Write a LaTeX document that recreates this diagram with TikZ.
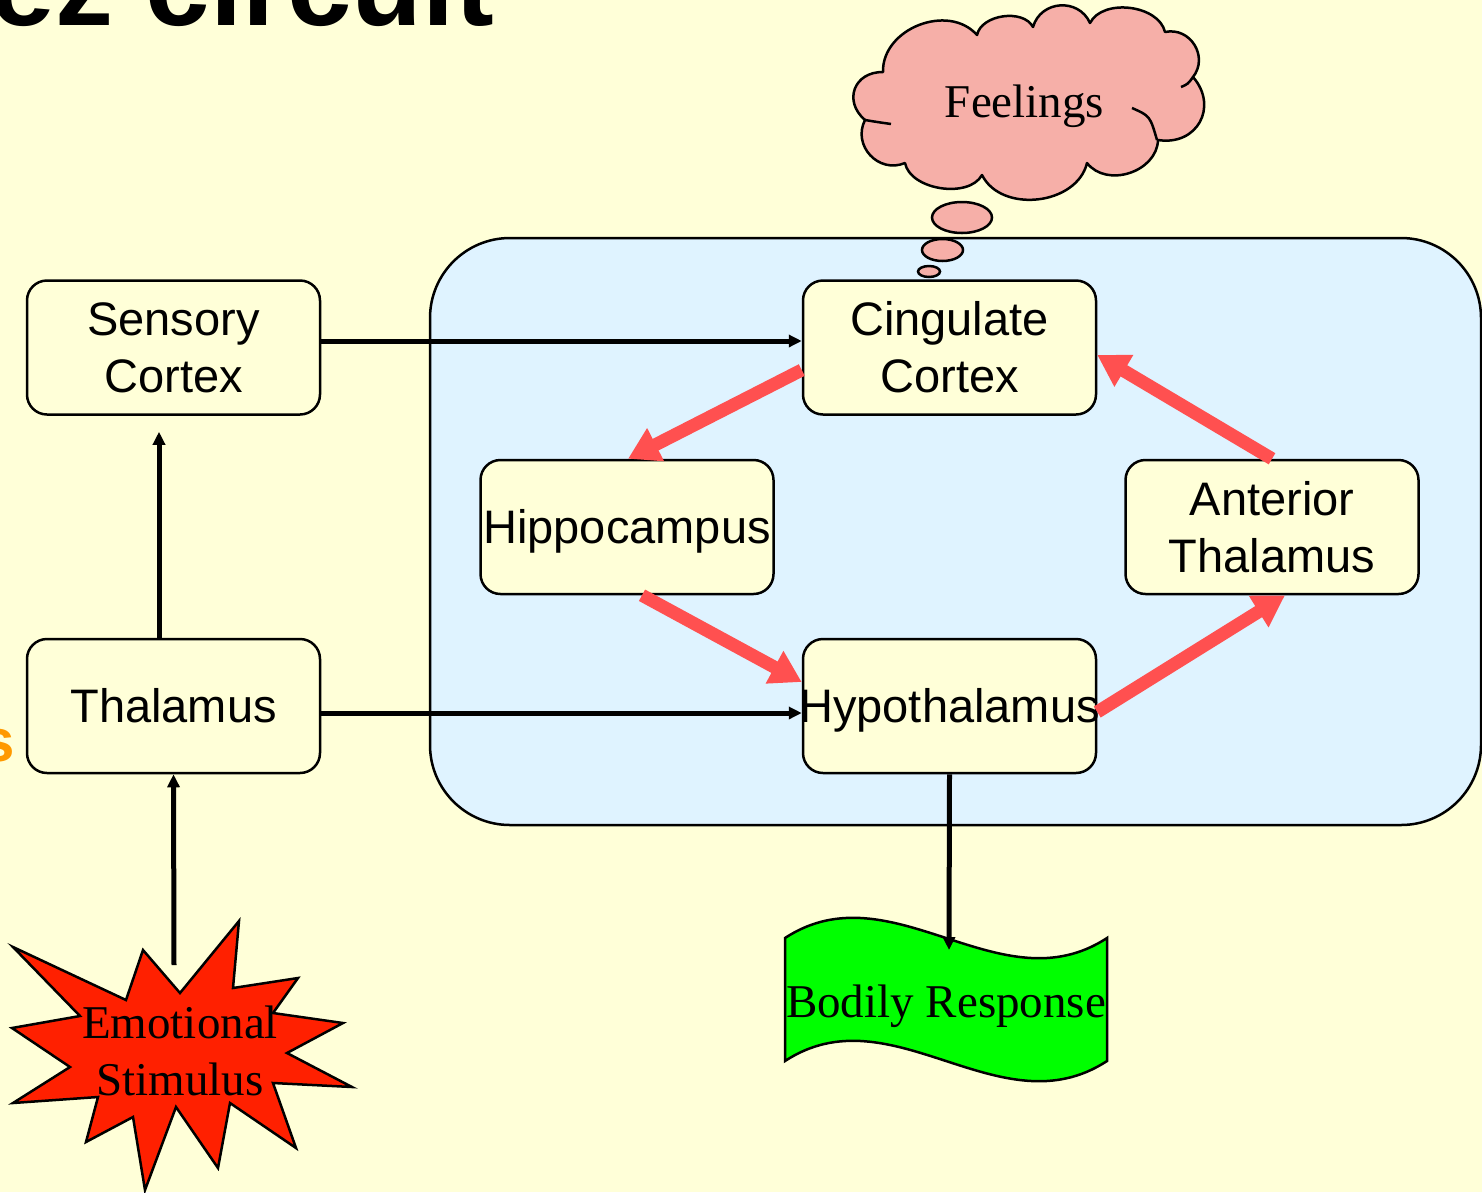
\documentclass[tikz,border=0pt]{standalone}
\usepackage{fontspec}
\setmainfont{Liberation Serif}
\setsansfont{Liberation Sans}
\usetikzlibrary{arrows.meta,calc}

\definecolor{paper}{HTML}{FFFFD8}
\definecolor{skyfill}{HTML}{DFF3FF}
\definecolor{loopred}{HTML}{FF5050}
\definecolor{cloudpink}{HTML}{F6AFA8}
\definecolor{burstred}{HTML}{FF2000}
\definecolor{wavegreen}{HTML}{00FF00}
\definecolor{titleorange}{HTML}{FF9900}

\newcommand\boxfont{\sffamily\fontsize{47}{57}\selectfont}
\newcommand\serifbig{\rmfamily\fontsize{47}{57}\selectfont}
\newcommand\titlefont{\sffamily\bfseries\fontsize{116}{130}\selectfont}
\newcommand\sidefont{\sffamily\bfseries\fontsize{60}{70}\selectfont}

\begin{document}
\begin{tikzpicture}[x=1pt,y=-1pt,
  region/.style={draw=black, line width=2.5pt, fill=skyfill, rounded corners=80pt},
  box/.style={draw=black, line width=2.5pt, fill=paper, rounded corners=20pt,
    minimum width=293pt, minimum height=134pt, inner sep=0pt, align=center, font=\boxfont},
  oneline/.style={text height=33.6pt, text depth=0pt},
  link/.style={draw=black, line width=5pt, -{Triangle[length=13pt,width=12pt]}},
  loop/.style={draw=loopred, line width=13pt, -{Triangle[length=31pt,width=35pt]}},
  bulge/.style={bend left=70, looseness=#1},
  thought/.style={draw=black, line width=2.5pt, fill=cloudpink},
]
\useasboundingbox (0,0) rectangle (1482,1192);
\clip (0,0) rectangle (1482,1192);
\fill[paper] (0,0) rectangle (1482,1192);

% heading and side label, partly outside the page
\node[anchor=base east, font=\titlefont, inner sep=0pt] (title) at (494,25) {ez circuit};
\node[anchor=base east, font=\sidefont, text=titleorange, inner sep=0pt] (side) at (15,761) {s};

% limbic region
\draw[region] (430,238) rectangle (1481,825);

% thought cloud
\draw[thought, line join=round]
  (883,72) to[bulge=1.1] (977,35) to[bulge=0.95] (1033,27) to[bulge=1.25] (1090,23)
  to[bulge=0.95] (1165,32) to[bulge=1.25] (1193,77) to[bulge=1.4] (1158,140)
  to[bulge=1.1] (1087,163) to[bulge=1.05] (982,175) to[bulge=0.9] (905,163)
  to[bulge=1.25] (865,120) to[bulge=1.45] (883,72) -- cycle;
\draw[line width=2.5pt] (865,120) .. controls (877,122) .. (891,124);
\draw[line width=2.5pt] (1132,108) .. controls (1150,116) .. (1157,140);
\draw[line width=2.5pt] (1181,87) .. controls (1188,84) .. (1193,77);
\draw[thought] (962,217.5) ellipse [x radius=30, y radius=15.5];
\draw[thought] (942.5,250) ellipse [x radius=20.5, y radius=11];
\draw[thought] (929,271.5) ellipse [x radius=11, y radius=5.5];
\node[font=\serifbig, inner sep=0pt] (feel) at (1024.5,106) {Feelings};

% emotional stimulus burst
\draw[fill=burstred, line width=2.5pt, line join=miter]
  (13,947) -- (126,1000) -- (143,950) -- (180,993) -- (239,921) -- (233,988)
  -- (298,978) -- (273,1013) -- (343,1023) -- (287,1053) -- (352,1087)
  -- (273,1083) -- (296,1148) -- (230,1103) -- (218,1168) -- (176,1107)
  -- (145,1190) -- (133,1117) -- (86,1142) -- (98,1097) -- (13,1103)
  -- (70,1067) -- (12,1028) -- (80,1016) -- cycle;
\node[font=\serifbig, align=center, inner sep=0pt] (stim) at (180,1050.5) {Emotional\\Stimulus};
\coordinate (stimtop) at (174,965);

% bodily response banner
\draw[fill=wavegreen, line width=2.5pt]
  (785,938) .. controls (892,868) and (1000,1008) .. (1107,938) -- (1107,1061)
  .. controls (1000,1131) and (892,991) .. (785,1061) -- cycle;
\node[font=\serifbig, inner sep=0pt] (resp) at (946,1006) {Bodily Response};
\coordinate (resptop) at (949,950);

% structures
\node[box] (sens)  at (173.5,347.5) {Sensory\\Cortex};
\node[box, oneline] (thal)  at (173.5,706)   {Thalamus};
\node[box] (cing)  at (949.5,347.5) {Cingulate\\Cortex};
\node[box, oneline] (hippo) at (627,527)     {Hippocampus};
\node[box] (ant)   at (1272,527)    {Anterior\\Thalamus};
\node[box, oneline] (hypo)  at (949.5,706)   {\makebox[280pt]{Hypothalamus}};

% direct pathways
\draw[link] ($(sens.east)+(0,-6.5)$) -- ($(cing.west)+(0,-6.5)$);
\draw[link] ($(thal.east)+(0,7)$) -- ($(hypo.west)+(0,7)$);
\draw[link] ($(thal.north)+(-14.5,0)$) -- ($(sens.south)+(-14.5,16)$);
\draw[link] (stimtop) -- (thal.south);
\draw[link] (hypo.south) -- (resptop);

% the circuit loop
\draw[loop] ($(cing.west)+(0,22.5)$) -- ($(hippo.north)+(1,0)$);
\draw[loop] ($(hippo.south)+(15,0)$) -- ($(hypo.west)+(0,-24)$);
\draw[loop] ($(hypo.east)+(0,6)$) -- ($(ant.south)+(13,0)$);
\draw[loop] (ant.north) -- ($(cing.east)+(0,7.5)$);
\end{tikzpicture}
\end{document}
